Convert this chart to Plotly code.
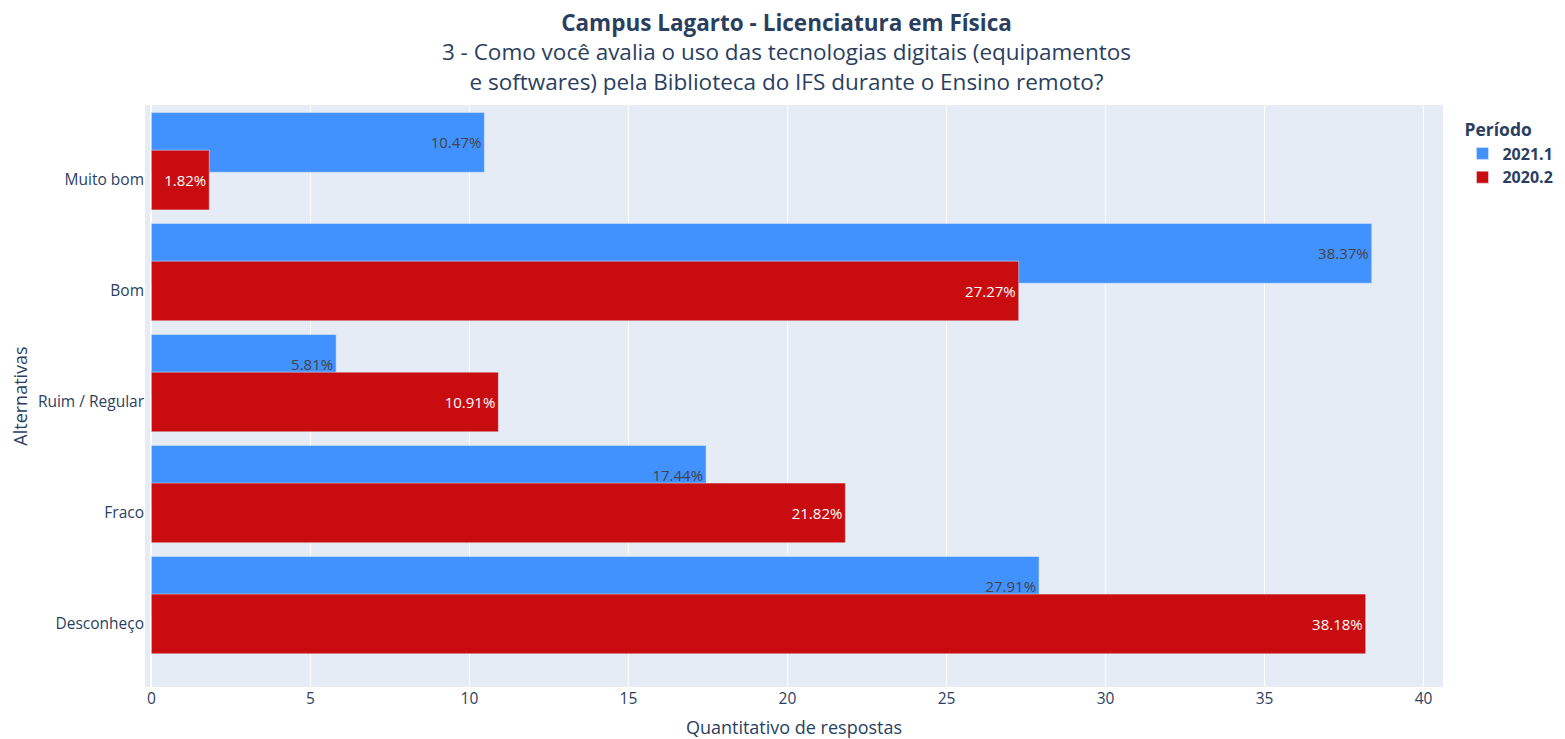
import plotly.graph_objects as go

categories = ["Muito bom", "Bom", "Ruim / Regular", "Fraco", "Desconheço"]
pct_2021_1 = [10.47, 38.37, 5.81, 17.44, 27.91]
pct_2020_2 = [1.82, 27.27, 10.91, 21.82, 38.18]
series_names = ["2021.1", "2020.2"]
tick_vals = [0, 5, 10, 15, 20, 25, 30, 35, 40]

FONT = "Open Sans, sans-serif"
BLUE = "#4192FF"
RED = "#C90C0F"

W, H = 1557, 731

fig = go.Figure()
fig.add_trace(go.Bar(
    name=series_names[0], y=categories, x=pct_2021_1, orientation="h",
    text=[f"{v:.2f}%" for v in pct_2021_1], textposition="inside",
    insidetextanchor="end",
    textfont=dict(family=FONT, size=15, color="#444"),
    marker=dict(color=BLUE, line=dict(color="#E5ECF6", width=0.5)),
    offset=-0.608, width=0.538,
))
fig.add_trace(go.Bar(
    name=series_names[1], y=categories, x=pct_2020_2, orientation="h",
    text=[f"{v:.2f}%" for v in pct_2020_2], textposition="inside",
    insidetextanchor="end",
    textfont=dict(family=FONT, size=15, color="white"),
    marker=dict(color=RED, line=dict(color="#E5ECF6", width=0.5)),
    offset=-0.269, width=0.538,
))

fig.update_layout(
    width=W, height=H,
    barmode="overlay",
    paper_bgcolor="white", plot_bgcolor="#E5ECF6",
    font=dict(family=FONT, color="#2a3f5f", size=15.5),
    margin=dict(l=137, r=122, t=97, b=52, autoexpand=False),
    title=dict(
        text="<b>Campus Lagarto - Licenciatura em Física</b><br>3 - Como você avalia o uso das tecnologias digitais (equipamentos<br>e softwares) pela Biblioteca do IFS durante o Ensino remoto?",
        x=0.5, xanchor="center", y=1 - 23.0 / H, yanchor="top", yref="container",
        font=dict(family=FONT, size=22.5, color="#2a3f5f"),
        automargin=False,
    ),
    legend=dict(
        title=dict(text="<b>Período</b>", font=dict(size=17.5)),
        font=dict(size=16, weight="bold"),
        tracegroupgap=0,
        x=1.015, xanchor="left", y=0.985, yanchor="top",
    ),
    xaxis=dict(
        title=dict(text="Quantitativo de respostas", font=dict(size=18)),
        range=[-0.2, 40.61], tickvals=tick_vals,
        showgrid=True, gridcolor="white", gridwidth=1,
        zeroline=True, zerolinecolor="white", zerolinewidth=2,
        tickfont=dict(size=15.5), automargin=False,
    ),
    yaxis=dict(
        title=dict(text="Alternativas", font=dict(size=18)),
        categoryorder="array", categoryarray=categories,
        range=[4.568, -0.676], showgrid=False,
        tickfont=dict(size=15.5), automargin=False,
    ),
)

fig.write_html("out.html")
